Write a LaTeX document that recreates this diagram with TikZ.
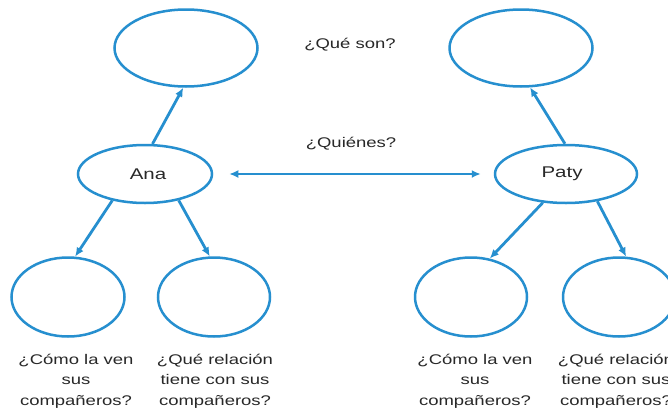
\documentclass[tikz,border=0pt]{standalone}
\usepackage{fontspec}
\setmainfont{Liberation Sans}
\usepackage{graphicx}
\usetikzlibrary{shapes.geometric,arrows.meta}
\definecolor{myblue}{RGB}{38,143,207}
\definecolor{txt}{RGB}{40,40,40}
\newcommand\hs[1]{\scalebox{1.32}[1]{#1}}
\begin{document}
\begin{tikzpicture}[x=1pt,y=-1pt,
  ell/.style={ellipse,draw=myblue,line width=2.5pt,inner sep=0pt,fill=white,
    text=txt,font=\fontsize{15.5}{18}\selectfont},
  tip/.tip={Latex[length=9pt,width=8pt]},
  arr/.style={draw=myblue,line width=2.8pt,-tip},
  lbl/.style={text=txt,font=\fontsize{14}{20.5}\selectfont,align=center,inner sep=0pt}]
\useasboundingbox[fill=white] (0,0) rectangle (668,415);
% ellipses
\node[ell,minimum width=143pt,minimum height=77pt] (qL) at (186,48) {};
\node[ell,minimum width=134pt,minimum height=58pt] (ana) at (145,174) {\hspace*{6pt}\hs{Ana}};
\node[ell,minimum width=113pt,minimum height=79pt] (bl1) at (68,297) {};
\node[ell,minimum width=112pt,minimum height=79pt] (bl2) at (214,297) {};
\node[ell,minimum width=143pt,minimum height=77pt] (qR) at (521,48) {};
\node[ell,minimum width=142pt,minimum height=58pt] (paty) at (566,174) {\hs{Paty}\hspace*{8pt}};
\node[ell,minimum width=112pt,minimum height=79pt] (br1) at (471,297) {};
\node[ell,minimum width=112pt,minimum height=79pt] (br2) at (619,297) {};
% texts
\node[lbl] (t1) at (350,45) {\hs{¿Qué son?}};
\node[lbl] (t2) at (351,144) {\hs{¿Quiénes?}};
\node[lbl] (l1) at (76,381) {\hs{¿Cómo la ven}\\\hs{sus}\\\hs{compañeros?}};
\node[lbl] (l2) at (215,381) {\hs{¿Qué relación}\\\hs{tiene con sus}\\\hs{compañeros?}};
\node[lbl] (l3) at (475,381) {\hs{¿Cómo la ven}\\\hs{sus}\\\hs{compañeros?}};
\node[lbl] (l4) at (616,381) {\hs{¿Qué relación}\\\hs{tiene con sus}\\\hs{compañeros?}};
% connectors
\draw[arr] (ana.76) -- (qL.266);
\draw[arr] (ana.219) -- (bl1.80);
\draw[arr] (ana.322) -- (bl2.96);
\draw[arr] (paty.92) -- (qR.283);
\draw[arr] (paty.231) -- (br1.64);
\draw[arr] (paty.319) -- (br2.80);
\draw[arr,tip-tip,shorten <=16pt,shorten >=13pt] (ana.east) -- (paty.west);
\end{tikzpicture}
\end{document}
